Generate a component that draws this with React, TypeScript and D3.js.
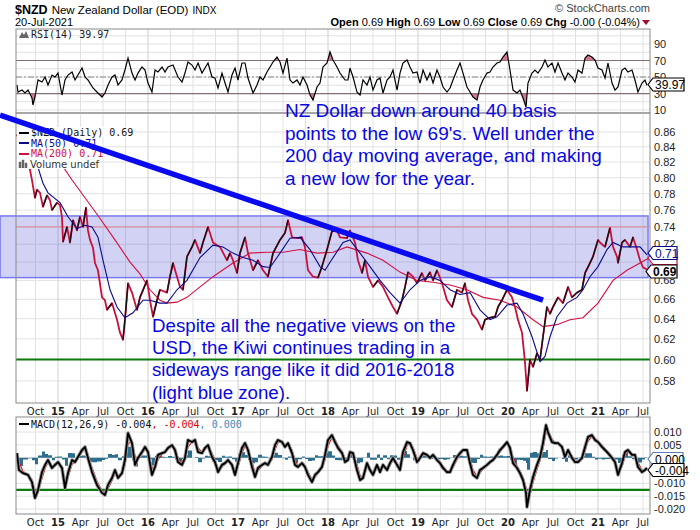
import React from "react";
import * as d3 from "d3";

// ---------- DATA (decimal year, value) ----------
const priceData: [number, number][] = [
  [2014.533,0.856],[2014.578,0.852],[2014.633,0.836],[2014.689,0.810],[2014.711,0.797],[2014.744,0.775],[2014.767,0.785],[2014.800,0.781],[2014.833,0.764],[2014.878,0.778],[2014.911,0.772],[2014.933,0.760],[2014.989,0.769],
  [2015.022,0.766],[2015.044,0.752],[2015.056,0.723],[2015.100,0.740],[2015.133,0.722],[2015.167,0.748],[2015.211,0.736],[2015.244,0.752],[2015.278,0.740],[2015.311,0.763],[2015.333,0.736],[2015.356,0.725],[2015.389,0.716],[2015.411,0.699],[2015.444,0.691],[2015.489,0.662],[2015.522,0.659],[2015.544,0.649],[2015.600,0.656],[2015.656,0.639],[2015.689,0.626],[2015.722,0.619],[2015.744,0.639],[2015.778,0.677],[2015.822,0.667],[2015.878,0.649],[2015.911,0.662],[2015.989,0.680],
  [2016.022,0.659],[2016.056,0.642],[2016.100,0.659],[2016.133,0.670],[2016.211,0.667],[2016.244,0.684],[2016.278,0.699],[2016.322,0.684],[2016.356,0.673],[2016.389,0.670],[2016.433,0.706],[2016.489,0.717],[2016.522,0.725],[2016.578,0.710],[2016.611,0.722],[2016.667,0.740],[2016.722,0.722],[2016.800,0.717],[2016.878,0.702],[2016.911,0.710],[2016.944,0.702],[2016.989,0.688],
  [2017.022,0.710],[2017.078,0.728],[2017.111,0.710],[2017.167,0.691],[2017.222,0.702],[2017.278,0.691],[2017.333,0.684],[2017.389,0.710],[2017.467,0.725],[2017.522,0.733],[2017.556,0.748],[2017.600,0.728],[2017.656,0.727],[2017.711,0.728],[2017.744,0.717],[2017.778,0.691],[2017.833,0.684],[2017.889,0.683],[2017.933,0.695],[2017.989,0.714],
  [2018.044,0.735],[2018.100,0.736],[2018.133,0.728],[2018.211,0.727],[2018.244,0.736],[2018.300,0.722],[2018.333,0.702],[2018.378,0.688],[2018.411,0.702],[2018.444,0.684],[2018.500,0.673],[2018.556,0.680],[2018.611,0.673],[2018.667,0.662],[2018.722,0.652],[2018.767,0.645],[2018.822,0.659],[2018.856,0.673],[2018.889,0.689],[2018.944,0.684],[2018.989,0.677],
  [2019.044,0.688],[2019.078,0.680],[2019.133,0.689],[2019.167,0.680],[2019.211,0.691],[2019.267,0.677],[2019.322,0.659],[2019.378,0.652],[2019.433,0.670],[2019.489,0.667],[2019.522,0.677],[2019.556,0.659],[2019.600,0.645],[2019.656,0.639],[2019.711,0.629],[2019.744,0.639],[2019.800,0.641],[2019.856,0.642],[2019.889,0.652],[2019.933,0.659],[2019.989,0.670],
  [2020.044,0.662],[2020.078,0.652],[2020.111,0.639],[2020.156,0.626],[2020.189,0.597],[2020.211,0.571],[2020.244,0.600],[2020.278,0.593],[2020.322,0.606],[2020.356,0.600],[2020.389,0.622],[2020.433,0.652],[2020.467,0.645],[2020.500,0.652],[2020.556,0.662],[2020.611,0.656],[2020.667,0.673],[2020.711,0.662],[2020.767,0.667],[2020.822,0.670],[2020.856,0.688],[2020.911,0.699],[2020.944,0.706],
  [2021.000,0.725],[2021.022,0.722],[2021.078,0.717],[2021.133,0.739],[2021.167,0.717],[2021.211,0.706],[2021.222,0.699],[2021.267,0.722],[2021.300,0.725],[2021.356,0.717],[2021.389,0.728],[2021.433,0.714],[2021.467,0.702],[2021.500,0.694],[2021.544,0.692],
];

const ma50Data: [number, number][] = [
  [2014.689,0.836],[2014.778,0.813],[2014.833,0.793],[2014.889,0.781],[2015.022,0.769],[2015.111,0.752],[2015.211,0.738],[2015.300,0.742],[2015.378,0.740],[2015.444,0.728],[2015.500,0.702],[2015.578,0.670],[2015.656,0.652],[2015.744,0.641],[2015.833,0.646],[2015.944,0.659],
  [2016.022,0.659],[2016.133,0.656],[2016.211,0.656],[2016.322,0.670],[2016.433,0.680],[2016.578,0.705],[2016.722,0.719],[2016.833,0.717],[2016.944,0.710],[2017.056,0.705],[2017.167,0.702],[2017.278,0.695],[2017.356,0.694],[2017.467,0.710],[2017.578,0.727],[2017.689,0.728],[2017.800,0.714],[2017.911,0.695],[2017.967,0.691],
  [2018.056,0.705],[2018.167,0.722],[2018.244,0.725],[2018.356,0.710],[2018.467,0.695],[2018.578,0.680],[2018.689,0.667],[2018.800,0.656],[2018.911,0.670],[2019.022,0.680],[2019.133,0.684],[2019.244,0.680],[2019.356,0.670],[2019.467,0.665],[2019.578,0.667],[2019.689,0.649],[2019.800,0.639],[2019.878,0.642],[2019.989,0.654],
  [2020.100,0.656],[2020.167,0.645],[2020.267,0.622],[2020.356,0.598],[2020.411,0.603],[2020.467,0.622],[2020.544,0.642],[2020.656,0.656],[2020.767,0.662],[2020.833,0.670],[2020.911,0.684],[2021.000,0.695],[2021.100,0.714],[2021.167,0.722],[2021.278,0.717],[2021.389,0.717],[2021.467,0.717],[2021.544,0.708],
];

const ma200Data: [number, number][] = [
  [2014.800,0.849],[2014.911,0.833],[2015.056,0.814],[2015.156,0.797],[2015.300,0.775],[2015.467,0.750],[2015.633,0.725],[2015.800,0.700],[2015.911,0.687],[2016.022,0.670],[2016.133,0.659],[2016.211,0.656],[2016.322,0.657],[2016.433,0.662],[2016.578,0.673],[2016.722,0.684],[2016.944,0.699],
  [2017.133,0.710],[2017.322,0.711],[2017.500,0.711],[2017.689,0.714],[2017.878,0.710],[2018.056,0.711],[2018.211,0.717],[2018.433,0.710],[2018.611,0.702],[2018.800,0.689],[2018.989,0.680],[2019.167,0.678],[2019.356,0.675],[2019.544,0.670],[2019.722,0.662],[2019.911,0.659],
  [2020.100,0.652],[2020.278,0.639],[2020.389,0.632],[2020.544,0.634],[2020.689,0.639],[2020.833,0.641],[2021.000,0.656],[2021.167,0.680],[2021.322,0.691],[2021.467,0.699],[2021.556,0.704],
];

const rsiData: [number, number][] = [
  [2014.544,40.3],[2014.556,31.8],[2014.600,34.2],[2014.633,30.6],[2014.667,34.2],[2014.711,24.5],[2014.722,16.1],[2014.744,25.8],[2014.778,46.4],[2014.822,43.9],[2014.856,50.0],[2014.889,40.3],[2014.933,52.4],[2014.967,50.0],
  [2015.000,54.8],[2015.044,28.2],[2015.078,46.4],[2015.111,52.4],[2015.156,56.1],[2015.189,46.4],[2015.222,52.4],[2015.267,60.9],[2015.300,50.0],[2015.333,46.4],[2015.389,36.7],[2015.433,31.8],[2015.489,25.8],[2015.522,30.6],[2015.556,40.3],[2015.600,50.0],[2015.633,52.4],[2015.667,40.3],[2015.711,46.4],[2015.744,58.5],[2015.778,73.0],[2015.822,54.8],[2015.856,46.4],[2015.889,54.8],[2015.933,62.1],[2015.967,58.5],
  [2016.000,42.7],[2016.044,31.8],[2016.078,58.5],[2016.111,56.1],[2016.156,62.1],[2016.189,56.1],[2016.222,62.1],[2016.278,64.5],[2016.333,50.0],[2016.378,43.9],[2016.411,54.8],[2016.444,68.2],[2016.489,64.5],[2016.522,58.5],[2016.556,67.0],[2016.600,54.8],[2016.633,60.9],[2016.667,67.0],[2016.711,50.0],[2016.744,48.8],[2016.778,36.7],[2016.822,54.8],[2016.856,42.7],[2016.889,31.8],[2016.933,52.4],[2016.967,60.9],
  [2017.000,46.4],[2017.044,67.0],[2017.078,67.0],[2017.111,48.8],[2017.167,30.6],[2017.211,40.3],[2017.244,50.0],[2017.278,46.4],[2017.322,56.1],[2017.356,62.1],[2017.389,68.2],[2017.433,74.2],[2017.467,68.2],[2017.500,54.8],[2017.544,73.0],[2017.578,46.4],[2017.611,42.7],[2017.656,46.4],[2017.689,40.3],[2017.722,50.0],[2017.767,40.3],[2017.800,28.2],[2017.833,22.1],[2017.878,37.9],[2017.911,42.7],[2017.944,62.1],[2017.989,67.0],
  [2018.022,80.3],[2018.056,70.6],[2018.100,62.1],[2018.133,54.8],[2018.189,46.4],[2018.222,46.4],[2018.244,60.9],[2018.278,50.0],[2018.322,31.8],[2018.356,28.2],[2018.389,46.4],[2018.433,40.3],[2018.467,50.0],[2018.500,34.2],[2018.544,46.4],[2018.578,48.8],[2018.611,30.6],[2018.656,46.4],[2018.689,50.0],[2018.722,58.5],[2018.767,34.2],[2018.800,54.8],[2018.833,67.0],[2018.878,70.6],[2018.911,62.1],[2018.944,54.8],[2018.989,56.1],
  [2019.022,42.7],[2019.056,58.5],[2019.100,46.4],[2019.133,54.8],[2019.167,42.7],[2019.211,58.5],[2019.244,50.0],[2019.278,37.9],[2019.322,31.8],[2019.356,36.7],[2019.389,46.4],[2019.433,58.5],[2019.467,67.0],[2019.500,54.8],[2019.544,37.9],[2019.578,31.8],[2019.611,25.8],[2019.656,22.1],[2019.689,37.9],[2019.722,46.4],[2019.767,54.8],[2019.800,56.1],[2019.833,62.1],[2019.878,67.0],[2019.911,68.2],[2019.944,74.2],[2019.989,80.3],
  [2020.022,58.5],[2020.056,34.2],[2020.100,30.6],[2020.133,34.2],[2020.167,24.5],[2020.200,13.6],[2020.222,42.7],[2020.267,54.8],[2020.300,58.5],[2020.333,54.8],[2020.378,62.1],[2020.411,70.6],[2020.444,62.1],[2020.489,67.0],[2020.522,56.1],[2020.556,67.0],[2020.600,54.8],[2020.633,46.4],[2020.667,54.8],[2020.711,50.0],[2020.744,43.9],[2020.778,58.5],[2020.822,54.8],[2020.856,73.0],[2020.889,76.7],[2020.933,74.2],[2020.967,70.6],
  [2021.000,60.9],[2021.044,58.5],[2021.078,48.8],[2021.111,67.0],[2021.156,42.7],[2021.189,34.2],[2021.222,37.9],[2021.267,58.5],[2021.300,60.9],[2021.333,56.1],[2021.378,58.5],[2021.411,46.4],[2021.444,31.8],[2021.489,42.7],[2021.522,46.4],[2021.544,40.0],
];

const macdData: [number, number][] = [
  [2014.544,0.0018],[2014.567,-0.0048],[2014.611,-0.0060],[2014.667,-0.0067],[2014.711,-0.0095],[2014.744,-0.0157],[2014.778,-0.0126],[2014.822,-0.0056],[2014.856,-0.0028],[2014.889,-0.0009],[2014.933,-0.0040],[2014.967,-0.0028],
  [2015.000,-0.0017],[2015.044,-0.0040],[2015.078,-0.0118],[2015.111,-0.0060],[2015.156,-0.0009],[2015.189,-0.0017],[2015.222,0.0003],[2015.267,0.0030],[2015.300,0.0042],[2015.333,-0.0001],[2015.378,-0.0056],[2015.433,-0.0106],[2015.489,-0.0137],[2015.522,-0.0145],[2015.556,-0.0106],[2015.600,-0.0079],[2015.633,-0.0048],[2015.667,-0.0079],[2015.711,-0.0060],[2015.744,-0.0009],[2015.778,0.0096],[2015.822,0.0057],[2015.856,-0.0028],[2015.889,-0.0001],[2015.933,0.0022],[2015.967,0.0042],
  [2016.000,0.0022],[2016.044,-0.0067],[2016.078,-0.0036],[2016.111,0.0011],[2016.156,0.0018],[2016.189,0.0022],[2016.222,0.0038],[2016.267,0.0049],[2016.300,0.0030],[2016.333,-0.0017],[2016.378,-0.0028],[2016.411,-0.0001],[2016.444,0.0069],[2016.489,0.0061],[2016.522,0.0069],[2016.556,0.0022],[2016.600,0.0018],[2016.633,0.0038],[2016.667,0.0049],[2016.711,0.0003],[2016.744,-0.0017],[2016.778,-0.0056],[2016.822,-0.0028],[2016.856,-0.0021],[2016.889,-0.0009],[2016.933,-0.0028],[2016.967,-0.0067],
  [2017.000,-0.0021],[2017.044,0.0038],[2017.078,0.0057],[2017.111,0.0030],[2017.156,-0.0036],[2017.189,-0.0075],[2017.222,-0.0040],[2017.267,-0.0028],[2017.300,-0.0021],[2017.333,-0.0028],[2017.378,0.0003],[2017.411,0.0049],[2017.444,0.0069],[2017.489,0.0061],[2017.522,0.0042],[2017.556,0.0057],[2017.600,0.0018],[2017.633,-0.0028],[2017.667,-0.0036],[2017.711,-0.0021],[2017.744,-0.0036],[2017.778,-0.0067],[2017.822,-0.0095],[2017.856,-0.0067],[2017.889,-0.0056],[2017.933,-0.0036],[2017.967,0.0011],
  [2018.000,0.0069],[2018.044,0.0088],[2018.078,0.0061],[2018.111,0.0038],[2018.156,0.0018],[2018.189,-0.0017],[2018.222,-0.0009],[2018.244,0.0022],[2018.278,0.0018],[2018.322,-0.0048],[2018.356,-0.0087],[2018.389,-0.0079],[2018.433,-0.0021],[2018.467,-0.0048],[2018.500,-0.0067],[2018.544,-0.0028],[2018.578,-0.0056],[2018.611,-0.0028],[2018.656,-0.0048],[2018.689,-0.0021],[2018.722,-0.0001],[2018.767,-0.0028],[2018.800,-0.0048],[2018.833,0.0022],[2018.878,0.0061],[2018.911,0.0057],[2018.944,0.0030],[2018.989,-0.0017],
  [2019.022,-0.0001],[2019.056,0.0018],[2019.100,0.0011],[2019.133,-0.0001],[2019.167,0.0011],[2019.211,-0.0009],[2019.244,-0.0021],[2019.278,-0.0040],[2019.322,-0.0056],[2019.356,-0.0056],[2019.389,-0.0028],[2019.433,0.0003],[2019.467,0.0018],[2019.500,0.0030],[2019.544,0.0030],[2019.578,-0.0021],[2019.611,-0.0067],[2019.656,-0.0079],[2019.689,-0.0048],[2019.722,-0.0040],[2019.767,-0.0028],[2019.800,-0.0017],[2019.833,-0.0009],[2019.878,0.0011],[2019.911,0.0030],[2019.944,0.0042],[2019.989,0.0061],
  [2020.022,0.0038],[2020.056,-0.0021],[2020.100,-0.0040],[2020.133,-0.0060],[2020.167,-0.0087],[2020.200,-0.0137],[2020.211,-0.0192],[2020.244,-0.0126],[2020.278,-0.0075],[2020.322,-0.0028],[2020.356,0.0003],[2020.389,0.0057],[2020.422,0.0127],[2020.444,0.0100],[2020.489,0.0061],[2020.522,0.0057],[2020.556,0.0057],[2020.600,0.0042],[2020.633,0.0003],[2020.667,0.0030],[2020.711,-0.0001],[2020.744,-0.0017],[2020.778,-0.0017],[2020.822,-0.0001],[2020.856,0.0042],[2020.889,0.0081],[2020.933,0.0088],[2020.967,0.0069],
  [2021.000,0.0061],[2021.044,0.0042],[2021.078,0.0030],[2021.111,0.0018],[2021.156,-0.0001],[2021.189,-0.0017],[2021.222,-0.0067],[2021.267,-0.0021],[2021.300,0.0022],[2021.333,0.0030],[2021.378,0.0011],[2021.411,0.0011],[2021.444,-0.0036],[2021.489,-0.0056],[2021.522,-0.0048],[2021.544,-0.0040],
];

const priceTicks = [0.58,0.60,0.62,0.64,0.66,0.68,0.70,0.72,0.74,0.76,0.78,0.80,0.82,0.84,0.86];
const priceTickHidden = [0.70];
const rsiTicks = [10,30,50,70,90];
const rsiGrid = [10,20,30,40,50,60,70,80,90,100];
const macdTicks = [0.010,0.005,0.000,-0.005,-0.010,-0.015,-0.020];
const macdTickHidden = [0.000,-0.005];
const monthLabels = ["Jan","Apr","Jul","Oct"];
const years = [2014,2015,2016,2017,2018,2019,2020,2021];

const rangeBand: [number, number] = [0.683, 0.753];
const bandSpan: [number, number] = [2014.356, 2021.556];
const resistanceLevel = 0.74;
const supportLevel = 0.60;
const macdSupport = -0.0125;
const trendLine: [number, number][] = [[2014.356, 0.8834], [2020.389, 0.659]];

const note1 = ["NZ Dollar down around 40 basis","points to the low 69's. Well under the","200 day moving average, and making","a new low for the year."];
const note2 = ["Despite all the negative views on the","USD, the Kiwi continues trading in a","sideways range like it did 2016-2018","(light blue zone)."];

// ---------- LAYOUT ----------
const L = 16, R = 650;
const rsiTop = 29, rsiBot = 113;
const mainTop = 113, mainBot = 403;
const macdTop = 417, macdBot = 514;

const SANS = "'Liberation Sans', Arial, sans-serif";
const MONO = "'DejaVu Sans Mono', monospace";
const DEJ = "'DejaVu Sans', Verdana, sans-serif";

function ValueBox({ x, yc, text, stroke, color, bold, w }: any) {
  const h = 13;
  const pts = [[x, yc],[x + 5, yc - h / 2],[x + w, yc - h / 2],[x + w, yc + h / 2],[x + 5, yc + h / 2]].map(p => p.join(",")).join(" ");
  return (
    <g>
      <polygon points={pts} fill="#fff" stroke={stroke} strokeWidth={1.2} />
      {text ? <text x={x + 7} y={yc + 4.5} fontFamily={SANS} fontSize={12} fontWeight={bold ? "bold" : "normal"} fill={color}>{text}</text> : null}
    </g>
  );
}

export default function App() {
  const x = d3.scaleLinear().domain([2014.5333, 2021.5778]).range([L, R]);
  const yP = d3.scaleLog().domain([0.5601, 0.8862]).range([mainBot, mainTop]);
  const yR = d3.scaleLinear().domain([6.4, 108.2]).range([rsiBot, rsiTop]);
  const yM = d3.scaleLinear().domain([-0.02193, 0.01586]).range([macdBot, macdTop]);

  const quarters: { t: number; label: string; isYear: boolean }[] = [];
  years.forEach(yr => [0, 3, 6, 9].forEach(m => {
    const t = yr + m / 12;
    if (t >= 2014.55 && t <= 2021.57) quarters.push({ t, label: m === 0 ? String(yr % 100).padStart(2, "0") : monthLabels[m / 3], isYear: m === 0 });
  }));

  // MACD signal line: EMA(9) stepped daily across the read MACD values
  const signalData: [number, number][] = [];
  {
    let s = macdData[0][1];
    const a = 2 / (9 + 1);
    signalData.push([macdData[0][0], s]);
    for (let i = 1; i < macdData.length; i++) {
      const [t0, v0] = macdData[i - 1];
      const [t1, v1] = macdData[i];
      const n = Math.max(1, Math.round((t1 - t0) * 260));
      for (let k = 1; k <= n; k++) {
        const v = v0 + (v1 - v0) * (k / n);
        s += a * (v - s);
      }
      signalData.push([t1, s]);
    }
  }
  const histData: [number, number][] = macdData.map((d, i) => [d[0], d[1] - signalData[i][1]]);

  const lineP = d3.line<[number, number]>().x(d => x(d[0])).y(d => yP(d[1]));
  const lineR = d3.line<[number, number]>().x(d => x(d[0])).y(d => yR(d[1]));
  const lineM = d3.line<[number, number]>().x(d => x(d[0])).y(d => yM(d[1]));
  const rsiAreaLow = d3.area<[number, number]>().x(d => x(d[0])).y0(yR(30)).y1(d => yR(d[1]));
  const rsiAreaHigh = d3.area<[number, number]>().x(d => x(d[0])).y0(yR(70)).y1(d => yR(d[1]));
  const histArea = d3.area<[number, number]>().curve(d3.curveStepAfter).x(d => x(d[0])).y0(yM(0)).y1(d => yM(d[1]));

  const gridC = "#e2e2e2";
  const yearGridC = "#cfcfcf";
  const borderC = "#8a8a8a";

  const vGrid = (top: number, bot: number) => quarters.map((q, i) => (
    <line key={i} x1={x(q.t)} x2={x(q.t)} y1={top} y2={bot} stroke={q.isYear ? yearGridC : gridC} strokeWidth={1} />
  ));

  const xLabels = (yy: number) => quarters.map((q, i) => (
    <text key={i} x={x(q.t)} y={yy} textAnchor="middle" fontFamily={DEJ} fontSize={10} fontWeight={q.isYear ? "bold" : "normal"} fill="#222">{q.label}</text>
  ));

  return (
    <svg width={700} height={530} style={{ position: "absolute", left: 0, top: 0, background: "#fff" }} fontFamily={SANS}>
      <defs>
        <clipPath id="clipRsi"><rect x={L} y={rsiTop} width={R - L} height={rsiBot - rsiTop} /></clipPath>
        <clipPath id="clipRsiLow"><rect x={L} y={yR(30)} width={R - L} height={rsiBot - yR(30)} /></clipPath>
        <clipPath id="clipRsiHigh"><rect x={L} y={rsiTop} width={R - L} height={yR(70) - rsiTop} /></clipPath>
        <clipPath id="clipMain"><rect x={L} y={mainTop} width={R - L} height={mainBot - mainTop} /></clipPath>
        <clipPath id="clipMacd"><rect x={L} y={macdTop} width={R - L} height={macdBot - macdTop} /></clipPath>
      </defs>

      {/* Header */}
      <text x={15} y={14} fontFamily={SANS} fill="#000">
        <tspan fontSize={12.5} fontWeight="bold">$NZD</tspan>
        <tspan dx={4} fontSize={11.5}>New Zealand Dollar (EOD)</tspan>
        <tspan dx={4} fontSize={10}>INDX</tspan>
      </text>
      <text x={15} y={26} fontFamily={SANS} fontSize={11} fill="#000">20-Jul-2021</text>
      <text x={650} y={12} textAnchor="end" fontFamily={SANS} fontSize={11} fill="#444">© StockCharts.com</text>
      <text x={640} y={26} textAnchor="end" fontFamily={SANS} fontSize={11} fill="#000">
        <tspan fontWeight="bold">Open</tspan> 0.69 <tspan fontWeight="bold">High</tspan> 0.69 <tspan fontWeight="bold">Low</tspan> 0.69 <tspan fontWeight="bold">Close</tspan> 0.69 <tspan fontWeight="bold">Chg</tspan> -0.00 (-0.04%)
      </text>
      <path d="M642,20 L650,20 L646,25 Z" fill="#a0102a" />

      {/* ---------- RSI panel ---------- */}
      {rsiGrid.map(v => <line key={v} x1={L} x2={R} y1={yR(v)} y2={yR(v)} stroke={gridC} />)}
      {vGrid(rsiTop, rsiBot)}
      <line x1={L} x2={R} y1={yR(70)} y2={yR(70)} stroke="#777" strokeWidth={1.2} />
      <line x1={L} x2={R} y1={yR(30)} y2={yR(30)} stroke="#777" strokeWidth={1.2} />
      <line x1={L} x2={R} y1={yR(50)} y2={yR(50)} stroke="#888" strokeWidth={1} strokeDasharray="6,2,2,2" />
      <g clipPath="url(#clipRsiLow)"><path d={rsiAreaLow(rsiData) || ""} fill="#c04060" opacity={0.7} /></g>
      <g clipPath="url(#clipRsiHigh)"><path d={rsiAreaHigh(rsiData) || ""} fill="#c04060" opacity={0.7} /></g>
      <g clipPath="url(#clipRsi)"><path d={lineR(rsiData) || ""} fill="none" stroke="#000" strokeWidth={1.2} /></g>
      <rect x={L} y={rsiTop} width={R - L} height={rsiBot - rsiTop} fill="none" stroke={borderC} />
      {rsiTicks.map(v => <text key={v} x={654} y={yR(v) + 4} fontFamily={SANS} fontSize={11} fill="#222">{v}</text>)}
      <path d="M19,38 L22,32 L24,35 L26,31 L29,38 Z" fill="#666" />
      <text x={31} y={38} fontFamily={MONO} fontSize={10} fill="#222">RSI(14) 39.97</text>

      {/* ---------- Main panel ---------- */}
      {priceTicks.map(v => <line key={v} x1={L} x2={R} y1={yP(v)} y2={yP(v)} stroke={gridC} />)}
      {vGrid(mainTop, mainBot)}
      <rect x={x(bandSpan[0])} width={x(bandSpan[1]) - x(bandSpan[0])} y={yP(rangeBand[1])} height={yP(rangeBand[0]) - yP(rangeBand[1])} fill="#3030d0" fillOpacity={0.22} stroke="#7a7aee" strokeWidth={1.5} />
      <line x1={L} x2={x(bandSpan[1])} y1={yP(resistanceLevel)} y2={yP(resistanceLevel)} stroke="#e0909e" strokeWidth={1.2} />
      <line x1={L} x2={R} y1={yP(supportLevel)} y2={yP(supportLevel)} stroke="#0a7a0a" strokeWidth={2.2} />
      <g clipPath="url(#clipMain)">
        <path d={lineP(ma200Data) || ""} fill="none" stroke="#d21040" strokeWidth={1.1} />
        <path d={lineP(priceData) || ""} fill="none" stroke="#c8103c" strokeWidth={1.8} strokeLinejoin="round" />
        {priceData.slice(1).map((d, i) => {
          const p = priceData[i];
          return d[1] > p[1] ? <line key={i} x1={x(p[0])} y1={yP(p[1])} x2={x(d[0])} y2={yP(d[1])} stroke="#111" strokeWidth={1.4} /> : null;
        })}
        <path d={lineP(ma50Data) || ""} fill="none" stroke="#0a0a8a" strokeWidth={1.1} />
      </g>
      {/* legend */}
      <rect x={17} y={127} width={112} height={10} fill="#fff" />
      <rect x={17} y={137} width={80} height={32} fill="#fff" />
      <line x1={19} x2={29} y1={133} y2={133} stroke="#000" strokeWidth={2} />
      <text x={31} y={136} fontFamily={MONO} fontSize={10} fill="#111">$NZD (Daily) 0.69</text>
      <line x1={19} x2={29} y1={143} y2={143} stroke="#0a0a8a" strokeWidth={2} />
      <text x={31} y={147} fontFamily={MONO} fontSize={10} fill="#0a0a8a">MA(50) 0.71</text>
      <line x1={19} x2={29} y1={154} y2={154} stroke="#d21040" strokeWidth={2} />
      <text x={31} y={157} fontFamily={MONO} fontSize={10} fill="#d21040">MA(200) 0.71</text>
      <path d="M19,168 V162 H21 V168 M22,168 V160 H24 V168 M25,168 V163 H27 V168" fill="#666" stroke="#666" strokeWidth={0.5} />
      <text x={30} y={168} fontFamily={DEJ} fontSize={10} fill="#333">Volume undef</text>
      <rect x={L} y={mainTop} width={R - L} height={mainBot - mainTop} fill="none" stroke={borderC} />
      {/* trend line */}
      <line x1={x(trendLine[0][0])} y1={yP(trendLine[0][1])} x2={x(trendLine[1][0])} y2={yP(trendLine[1][1])} stroke="#0a0aee" strokeWidth={5.5} />
      {priceTicks.filter(v => !priceTickHidden.includes(v)).map(v => <text key={v} x={654} y={yP(v) + 4} fontFamily={SANS} fontSize={11} fill="#222">{v.toFixed(2)}</text>)}
      {note1.map((s, i) => <text key={i} x={285} y={117 + i * 22.5} fontFamily={SANS} fontSize={19} fill="#0808e0">{s}</text>)}
      {note2.map((s, i) => <text key={i} x={152} y={332 + i * 22.2} fontFamily={SANS} fontSize={18.7} fill="#0808e0">{s}</text>)}
      {xLabels(415)}

      {/* ---------- MACD panel ---------- */}
      {macdTicks.map(v => <line key={v} x1={L} x2={R} y1={yM(v)} y2={yM(v)} stroke={gridC} />)}
      {vGrid(macdTop, macdBot)}
      <g clipPath="url(#clipMacd)">
        <path d={histArea(histData) || ""} fill="#2d6e8e" />
        <line x1={L} x2={R} y1={yM(macdSupport)} y2={yM(macdSupport)} stroke="#0a7a0a" strokeWidth={2.2} />
        <path d={lineM(signalData) || ""} fill="none" stroke="#e00000" strokeWidth={1.1} />
        <path d={lineM(macdData) || ""} fill="none" stroke="#999" strokeWidth={3.6} strokeLinejoin="round" />
        <path d={lineM(macdData) || ""} fill="none" stroke="#000" strokeWidth={1.8} strokeLinejoin="round" />
      </g>
      <rect x={L} y={macdTop} width={R - L} height={macdBot - macdTop} fill="none" stroke={borderC} />
      {macdTicks.filter(v => !macdTickHidden.includes(v)).map(v => <text key={v} x={654} y={yM(v) + 4} fontFamily={SANS} fontSize={11} fill="#222">{v.toFixed(3)}</text>)}
      <line x1={19} x2={29} y1={424} y2={424} stroke="#000" strokeWidth={2} />
      <text x={31} y={428} fontFamily={MONO} fontSize={10} fill="#111">MACD(12,26,9) -0.004<tspan fill="#e00000">, -0.004</tspan><tspan fill="#3a8fc0">, 0.000</tspan></text>
      {xLabels(526)}

      {/* value boxes */}
      <ValueBox x={648} yc={84.5} text="39.97" stroke="#000" color="#000" w={36} />
      <ValueBox x={648} yc={258} text="" stroke="#d21040" color="#d21040" w={29} />
      <ValueBox x={648} yc={253} text="0.71" stroke="#0a0a8a" color="#0a0a8a" w={29} />
      <ValueBox x={646} yc={271.5} text="0.69" stroke="#000" color="#000" bold w={31} />
      <ValueBox x={648} yc={459} text="0.000" stroke="#5a7fb0" color="#000" w={35} />
      <ValueBox x={648} yc={470} text="-0.004" stroke="#000" color="#000" w={36} />
    </svg>
  );
}
